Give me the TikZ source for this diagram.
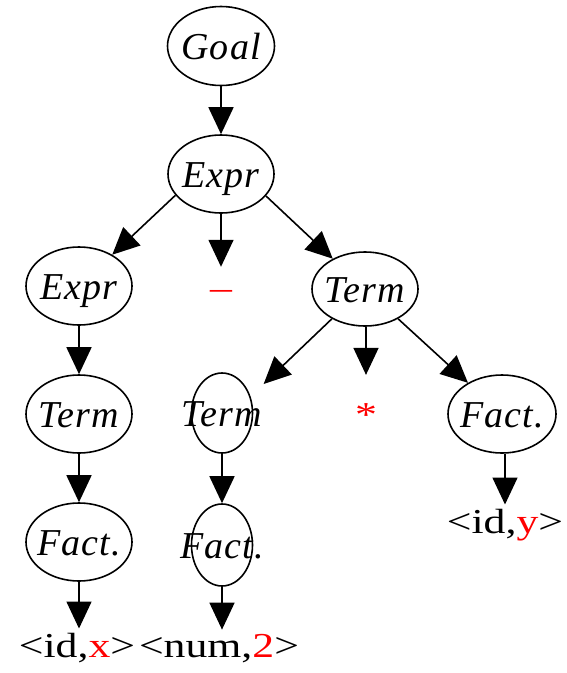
\documentclass[tikz,border=0pt]{standalone}
\usepackage{fontspec}
\setmainfont{Liberation Serif}
\newfontfamily\ntfam{Liberation Serif}[LetterSpace=3]
\newfontfamily\tfam{Liberation Serif}[FakeStretch=1.25]
\usetikzlibrary{arrows.meta,shapes.geometric}
\begin{document}
\begin{tikzpicture}[x=1pt,y=-1pt,
  ntbox/.style={ellipse, draw, line width=1.6pt, inner sep=0pt, minimum width=106pt, minimum height=78pt},
  narrow/.style={minimum width=61pt, minimum height=80pt},
  ntlabel/.style={font=\ntfam\itshape\fontsize{38}{42}\selectfont, text height=25pt, text depth=0pt, inner sep=0pt, yshift=-1pt},
  tlabel/.style={font=\tfam\fontsize{35}{40}\selectfont, inner sep=4pt, anchor=base},
  arr/.style={line width=1.6pt, -{Triangle[length=27pt,width=25pt]}},
]
\useasboundingbox (0,0) rectangle (566,673);

% nonterminals
\node[ntbox, minimum width=107pt, minimum height=79pt, label={[ntlabel]center:Goal}] (goal) at (221,46) {};
\node[ntbox, label={[ntlabel]center:Expr}] (expr) at (221,174) {};
\node[ntbox, label={[ntlabel]center:Expr}] (exprL) at (79,286) {};
\node[ntbox, minimum height=74pt, label={[ntlabel]center:Term}] (termR) at (365,289) {};
\node[ntbox, label={[ntlabel]center:Term}] (termL) at (79,414) {};
\node[ntbox, label={[ntlabel]center:Fact.}] (factL) at (79,542) {};
\node[ntbox, narrow, label={[ntlabel]center:Term}] (termM) at (222,413) {};
\node[ntbox, narrow, minimum height=82pt, label={[ntlabel]center:Fact.}] (factM) at (222,545) {};
\node[ntbox, minimum width=108pt, label={[ntlabel]center:Fact.}] (factR) at (502,414) {};

% terminals
\node[tlabel] (idx) at (77,657) {<id,\textcolor{red}{x}>};
\node[tlabel] (num) at (219,657) {<num,\textcolor{red}{2}>};
\node[tlabel] (idy) at (505,533) {<id,\textcolor{red}{y}>};
\node[tlabel, text=red] (minus) at (221,299) {\textendash};
\node[tlabel, text=red] (star) at (366,426) {*};

% connectors
\draw[arr] (goal) -- (expr);
\draw[arr] (expr.205) -- (exprL);
\draw[arr, shorten >=19pt] (expr.south) -- (minus.north);
\draw[arr] (expr.334) -- (termR);
\draw[arr] (exprL) -- (termL);
\draw[arr] (termL) -- (factL);
\draw[arr] (factL.south) -- (factL.south |- idx.north);
\draw[arr, shorten >=18pt] (termR.222) -- (termM.30);
\draw[arr, shorten >=24pt] (termR.south -| star.north) -- (star.north);
\draw[arr] (termR.318) -- (factR);
\draw[arr] (termM) -- (factM);
\draw[arr] (factM.south) -- (factM.south |- num.north);
\draw[arr] (idy.north |- factR.south) -- (idy.north);
\end{tikzpicture}
\end{document}
